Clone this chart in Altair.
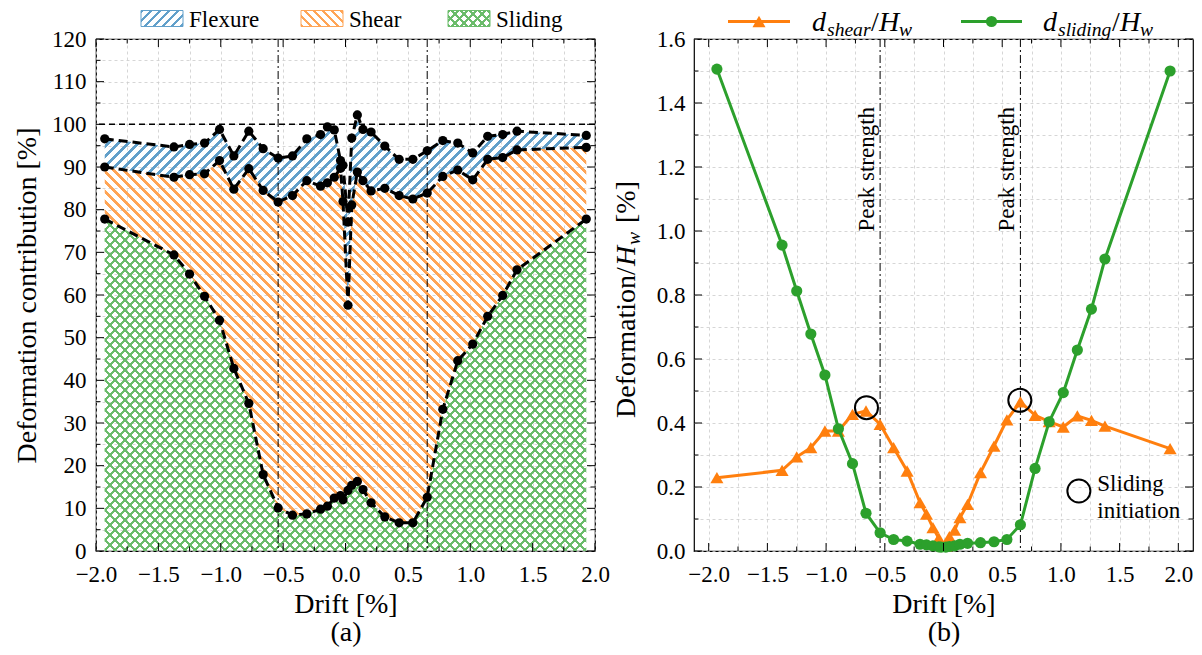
import altair as alt
import pandas as pd

# ---------------- data ----------------
drift = [-1.93, -1.375, -1.25, -1.13, -1.01, -0.895, -0.775, -0.66, -0.54, -0.425,
         -0.31, -0.2, -0.145, -0.09, -0.04, -0.02, 0.02, 0.05, 0.095, 0.14,
         0.205, 0.315, 0.43, 0.54, 0.655, 0.78, 0.9, 1.02, 1.14, 1.26, 1.375, 1.93]
total_pct = [96.6, 94.7, 95.3, 95.6, 98.8, 92.6, 98.4, 94.3, 92.1, 92.6,
             96.6, 97.6, 99.4, 98.7, 91.5, 90.4, 77.1, 96.8, 102.2, 98.8,
             98.2, 94.9, 91.8, 91.8, 93.8, 96.2, 95.6, 93.3, 97.2, 97.6, 98.4, 97.4]
shear_top_pct = [90.0, 87.6, 88.2, 88.4, 91.5, 84.8, 89.6, 84.5, 81.8, 83.3,
                 86.8, 85.5, 86.3, 87.6, 89.7, 81.9, 57.6, 81.1, 88.8, 86.8,
                 84.4, 85.0, 83.3, 82.5, 83.9, 87.8, 89.3, 87.0, 91.8, 92.2, 94.0, 94.6]
sliding_pct = [77.8, 69.4, 64.9, 59.7, 54.1, 42.8, 34.6, 17.9, 10.1, 8.4,
               8.7, 9.8, 10.5, 12.4, 13.0, 12.0, 14.2, 15.4, 16.3, 14.4,
               11.3, 8.0, 6.6, 6.6, 12.6, 33.2, 44.6, 48.5, 55.0, 59.9, 65.9, 77.8]
d_shear = [0.229, 0.252, 0.294, 0.323, 0.375, 0.375, 0.427, 0.4375, 0.396, 0.323,
           0.25, 0.151, 0.115, 0.073, 0.04, 0.022, 0.015, 0.045, 0.065, 0.104,
           0.146, 0.245, 0.328, 0.41, 0.466, 0.424, 0.404, 0.3875, 0.422, 0.408, 0.39, 0.32]
d_sliding = [1.506, 0.956, 0.8125, 0.678, 0.55, 0.382, 0.273, 0.118, 0.057, 0.036,
             0.031, 0.021, 0.019, 0.016, 0.013, 0.012, 0.012, 0.014, 0.016, 0.021,
             0.024, 0.026, 0.029, 0.036, 0.082, 0.258, 0.404, 0.495, 0.628, 0.756, 0.9125, 1.5]

peak_drift = [-0.54, 0.655]
peak_labels = ["Peak strength", "Peak strength"]
circle_drift = [-0.656, 0.65, 1.153]
circle_val = [0.448, 0.471, 0.1875]
note_drift = [1.31]
note_val = [0.1875]
note_text = ["Sliding\ninitiation"]
ref_pct = [100]
legend_a_labels = ["Flexure", "Shear", "Sliding"]

xa_major = [-2.0, -1.5, -1.0, -0.5, 0.0, 0.5, 1.0, 1.5, 2.0]
xa_minor = [-1.75, -1.25, -0.75, -0.25, 0.25, 0.75, 1.25, 1.75]
ya_major = [0, 10, 20, 30, 40, 50, 60, 70, 80, 90, 100, 110, 120]
ya_minor = [5, 15, 25, 35, 45, 55, 65, 75, 85, 95, 105, 115]
yb_major = [0.0, 0.2, 0.4, 0.6, 0.8, 1.0, 1.2, 1.4, 1.6]
yb_minor = [0.1, 0.3, 0.5, 0.7, 0.9, 1.1, 1.3, 1.5]

# ---------------- style ----------------
FONT = "Liberation Serif, Times New Roman, serif"
W, H = 499, 512
BLUE, ORANGE, GREEN = "#62a0ca", "#ffa556", "#6bbc6b"
LINE_OR, LINE_GR = "#ff7f0e", "#2ca02c"
CLEAR = "rgba(255,255,255,0)"
GRID = "#cccccc"

xa_scale = alt.Scale(domain=[-2, 2], nice=False, zero=False)
ya_scale = alt.Scale(domain=[0, 120], nice=False)
xb_scale = alt.Scale(domain=[-2.125, 2.125], nice=False, zero=False)
yb_scale = alt.Scale(domain=[0, 1.6], nice=False)
PXA, PYA = W / 4.0, H / 120.0


def hatch(color, w, h, direction, period=10.0, frac=0.35):
    a, b = 1.0 / w, 1.0 / h
    k = (a + b) / (a * a + b * b)
    if direction == "/":
        x1, y1, x2, y2 = 0, 0, k * b, k * a
    else:
        x1, y1, x2, y2 = 0, 1, k * b, 1 - k * a
    n = (w + h) / period
    stops = []
    i = 0
    while i < n:
        o0 = i / n
        o1 = min((i + frac) / n, 1.0)
        o2 = min((i + 1) / n, 1.0)
        stops += [(color, o0), (color, o1), (CLEAR, o1), (CLEAR, o2)]
        i += 1
    return alt.LinearGradient(
        gradient="linear",
        stops=[alt.GradientStop(color=c, offset=round(o, 5)) for c, o in stops],
        x1=x1, y1=y1, x2=round(x2, 5), y2=round(y2, 5))


def x_axis(title):
    return alt.Axis(
        values=sorted(xa_major + xa_minor), format=".1f",
        labelExpr="abs(datum.value*2 - round(datum.value*2)) < 0.001 ? datum.label : ''",
        ticks=False, tickSize=0, domain=False, grid=True, gridColor=GRID,
        gridDash=[3, 3], gridWidth=0.8, labelFont=FONT, labelFontSize=23,
        labelColor="black", labelPadding=12, labelFlush=False, labelOverlap=False,
        title=title, titleFont=FONT, titleFontSize=28, titleFontWeight="normal",
        titleColor="black", titlePadding=4, titleLineHeight=28)


ax_a = x_axis(["Drift [%]", "(a)"])
ax_b = x_axis(["Drift [%]", "(b)"])
ay_a = alt.Axis(
    values=sorted(ya_major + ya_minor), format="d",
    labelExpr="datum.value % 10 == 0 ? datum.label : ''",
    ticks=False, tickSize=0, domain=False, grid=True, gridColor=GRID,
    gridDash=[3, 3], gridWidth=0.8, labelFont=FONT, labelFontSize=23,
    labelColor="black", labelPadding=10, labelOverlap=False,
    title="Deformation contribution [%]", titleFont=FONT, titleFontSize=28,
    titleFontWeight="normal", titleColor="black", titlePadding=10)
ay_b = alt.Axis(
    values=sorted(yb_major + yb_minor), format=".1f",
    labelExpr="round(datum.value*10) % 2 == 0 ? datum.label : ''",
    ticks=False, tickSize=0, domain=False, grid=True, gridColor=GRID,
    gridDash=[3, 3], gridWidth=0.8, labelFont=FONT, labelFontSize=23,
    labelColor="black", labelPadding=9, labelOverlap=False, title=None)

one = pd.DataFrame({"k": [0]})


def frame_ticks(xs, ys, xscale, xaxis, yscale, yaxis):
    out = []
    for vals, L in ((xs[0], 8), (xs[1], 4.5)):
        d = pd.DataFrame({"t": vals})
        X = alt.X("t:Q", scale=xscale, axis=xaxis)
        out.append(alt.Chart(d).mark_rule(color="black", strokeWidth=1).encode(
            x=X, y=alt.value(H), y2=alt.value(H - L)))
        out.append(alt.Chart(d).mark_rule(color="black", strokeWidth=1).encode(
            x=X, y=alt.value(0), y2=alt.value(L)))
    for vals, L in ((ys[0], 8), (ys[1], 4.5)):
        d = pd.DataFrame({"t": vals})
        Y = alt.Y("t:Q", scale=yscale, axis=yaxis)
        out.append(alt.Chart(d).mark_rule(color="black", strokeWidth=1).encode(
            y=Y, x=alt.value(0), x2=alt.value(L)))
        out.append(alt.Chart(d).mark_rule(color="black", strokeWidth=1).encode(
            y=Y, x=alt.value(W), x2=alt.value(W - L)))
    return out


def txt(s, x, y, size, italic=False, angle=0, align="left"):
    kw = dict(text=s, font=FONT, fontSize=size, color="black", align=align,
              baseline="alphabetic")
    if italic:
        kw["fontStyle"] = "italic"
    if angle:
        kw["angle"] = angle
    return alt.Chart(one).mark_text(**kw).encode(x=alt.value(x), y=alt.value(y))


# ---------------- panel (a) ----------------
df_a = pd.DataFrame({"drift": drift, "total": total_pct,
                     "shear_top": shear_top_pct, "sliding": sliding_pct})
n = len(drift)
df_lines = pd.DataFrame({
    "drift": drift * 3,
    "pct": total_pct + shear_top_pct + sliding_pct,
    "curve": ["total"] * n + ["shear"] * n + ["sliding"] * n})
XA = alt.X("drift:Q", scale=xa_scale, axis=ax_a)
wa = (max(drift) - min(drift)) * PXA
h_sl = max(sliding_pct) * PYA
h_sh = (max(shear_top_pct) - min(sliding_pct)) * PYA
h_fl = (max(total_pct) - min(shear_top_pct)) * PYA

layers_a = []
layers_a.append(alt.Chart(one).mark_rule(opacity=0, strokeWidth=0).encode(
    x=alt.value(-95), x2=alt.value(-95), y=alt.value(-37.5), y2=alt.value(-37.5)))
layers_a.append(alt.Chart(df_a).mark_area(fill=hatch(GREEN, wa, h_sl, "/", frac=0.3), strokeWidth=0).encode(
    x=XA, y=alt.Y("sliding:Q", scale=ya_scale, axis=ay_a), y2=alt.datum(0)))
layers_a.append(alt.Chart(df_a).mark_area(fill=hatch(GREEN, wa, h_sl, "\\", frac=0.3), strokeWidth=0).encode(
    x=XA, y=alt.Y("sliding:Q", scale=ya_scale, axis=ay_a), y2=alt.datum(0)))
layers_a.append(alt.Chart(df_a).mark_area(fill=hatch(ORANGE, wa, h_sh, "\\"), strokeWidth=0).encode(
    x=XA, y=alt.Y("shear_top:Q", scale=ya_scale, axis=ay_a), y2="sliding:Q"))
layers_a.append(alt.Chart(df_a).mark_area(fill=hatch(BLUE, wa, h_fl, "/"), strokeWidth=0).encode(
    x=XA, y=alt.Y("total:Q", scale=ya_scale, axis=ay_a), y2="shear_top:Q"))
layers_a.append(alt.Chart(pd.DataFrame({"v": ref_pct})).mark_rule(
    color="black", strokeWidth=1.5, strokeDash=[6, 4]).encode(
    y=alt.Y("v:Q", scale=ya_scale, axis=ay_a)))
layers_a.append(alt.Chart(pd.DataFrame({"drift": peak_drift})).mark_rule(
    color="black", strokeWidth=1, strokeDash=[8, 3, 2, 3]).encode(x=XA))
layers_a.append(alt.Chart(df_lines).mark_line(
    color="black", strokeWidth=3, strokeDash=[9, 5]).encode(
    x=XA, y=alt.Y("pct:Q", scale=ya_scale, axis=ay_a), detail="curve:N"))
layers_a.append(alt.Chart(df_lines).mark_circle(color="black", size=85, opacity=1).encode(
    x=XA, y=alt.Y("pct:Q", scale=ya_scale, axis=ay_a), detail="curve:N"))
layers_a += frame_ticks((xa_major, xa_minor), (ya_major, ya_minor),
                        xa_scale, ax_a, ya_scale, ay_a)
# legend (a)
patch_x = [45, 205, 352]
patch_fill = [[(BLUE, "/")], [(ORANGE, "\\")], [(GREEN, "/"), (GREEN, "\\")]]
patch_col = [BLUE, ORANGE, GREEN]
for px, fills, col, lab in zip(patch_x, patch_fill, patch_col, legend_a_labels):
    for c, dirn in fills:
        layers_a.append(alt.Chart(one).mark_rect(fill=hatch(c, 42, 16, dirn, period=9)).encode(
            x=alt.value(px), x2=alt.value(px + 42), y=alt.value(-28.5), y2=alt.value(-12.5)))
    layers_a.append(alt.Chart(one).mark_rect(fillOpacity=0, stroke=col, strokeWidth=1).encode(
        x=alt.value(px), x2=alt.value(px + 42), y=alt.value(-28.5), y2=alt.value(-12.5)))
    layers_a.append(txt(lab, px + 48, -12.5, 23))

panel_a = alt.layer(*layers_a).properties(width=W, height=H)

# ---------------- panel (b) ----------------
df_b = pd.DataFrame({"drift": drift, "d_shear": d_shear, "d_sliding": d_sliding})
XB = alt.X("drift:Q", scale=xb_scale, axis=ax_b)
layers_b = []
df_peak = pd.DataFrame({"drift": peak_drift, "label": peak_labels})
layers_b.append(alt.Chart(df_peak).mark_rule(
    color="black", strokeWidth=1, strokeDash=[8, 3, 2, 3]).encode(x=XB))
layers_b.append(alt.Chart(df_peak).mark_text(
    font=FONT, fontSize=23, angle=270, align="left", baseline="alphabetic",
    dy=-6, color="black").encode(x=XB, y=alt.value(192.5), text="label:N"))
layers_b.append(alt.Chart(df_b).mark_line(color=LINE_OR, strokeWidth=3).encode(
    x=XB, y=alt.Y("d_shear:Q", scale=yb_scale, axis=ay_b)))
layers_b.append(alt.Chart(df_b).mark_point(
    shape="triangle-up", filled=True, size=170, color=LINE_OR, opacity=1).encode(
    x=XB, y=alt.Y("d_shear:Q", scale=yb_scale, axis=ay_b)))
layers_b.append(alt.Chart(df_b).mark_line(color=LINE_GR, strokeWidth=3).encode(
    x=XB, y=alt.Y("d_sliding:Q", scale=yb_scale, axis=ay_b)))
layers_b.append(alt.Chart(df_b).mark_circle(size=125, color=LINE_GR, opacity=1).encode(
    x=XB, y=alt.Y("d_sliding:Q", scale=yb_scale, axis=ay_b)))
layers_b.append(alt.Chart(pd.DataFrame({"drift": circle_drift, "v": circle_val})).mark_point(
    shape="circle", filled=False, size=530, color="black", strokeWidth=2, opacity=1).encode(
    x=XB, y=alt.Y("v:Q", scale=yb_scale, axis=ay_b)))
layers_b.append(alt.Chart(pd.DataFrame({"drift": note_drift, "v": note_val, "t": note_text})).mark_text(
    font=FONT, fontSize=23, align="left", baseline="alphabetic", lineBreak="\n",
    lineHeight=27, color="black").encode(
    x=XB, y=alt.Y("v:Q", scale=yb_scale, axis=ay_b), text="t:N"))
layers_b += frame_ticks((xa_major, xa_minor), (yb_major, yb_minor),
                        xb_scale, ax_b, yb_scale, ay_b)
# legend (b)
layers_b.append(alt.Chart(one).mark_rule(color=LINE_OR, strokeWidth=3).encode(
    x=alt.value(34), x2=alt.value(96), y=alt.value(-17.5)))
layers_b.append(alt.Chart(one).mark_point(
    shape="triangle-up", filled=True, size=170, color=LINE_OR, opacity=1).encode(
    x=alt.value(65), y=alt.value(-17.5)))
layers_b.append(alt.Chart(one).mark_rule(color=LINE_GR, strokeWidth=3).encode(
    x=alt.value(267), x2=alt.value(328), y=alt.value(-17.5)))
layers_b.append(alt.Chart(one).mark_circle(size=125, color=LINE_GR, opacity=1).encode(
    x=alt.value(297.5), y=alt.value(-17.5)))
layers_b += [txt("d", 118, -8.5, 28, True), txt("shear", 133, -3.5, 19.6, True),
             txt("/", 177, -8.5, 28), txt("H", 185, -8.5, 28, True),
             txt("w", 205, -3.5, 19.6, True)]
layers_b += [txt("d", 349, -8.5, 28, True), txt("sliding", 364, -3.5, 19.6, True),
             txt("/", 418, -8.5, 28), txt("H", 426, -8.5, 28, True),
             txt("w", 446, -3.5, 19.6, True)]
# y title (b)
layers_b += [txt("Deformation/", -59, 379, 28, angle=270),
             txt("H", -59, 227, 28, True, angle=270),
             txt("w", -54, 206, 19.6, True, angle=270),
             txt("[%]", -59, 184, 28, angle=270)]

panel_b = alt.layer(*layers_b).properties(width=W, height=H)

chart = alt.hconcat(panel_a, panel_b, spacing=99, bounds="flush").configure(
    font=FONT, background="white",
    padding={"left": 0, "top": 0, "right": 4, "bottom": 4}).configure_view(
    stroke="black", strokeWidth=1.2)

chart.save("out.html", embed_options={"renderer": "svg", "actions": False})
